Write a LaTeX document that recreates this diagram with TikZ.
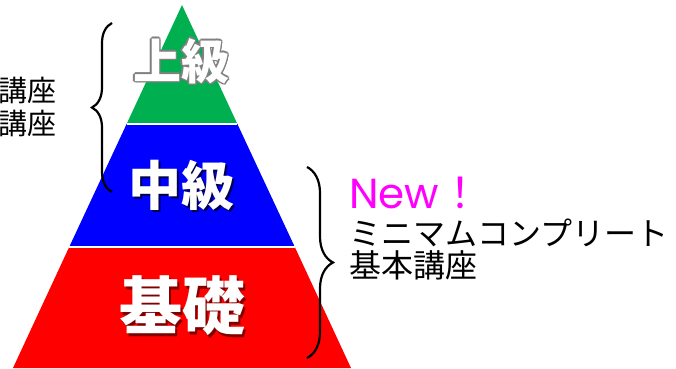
\documentclass[tikz,border=0pt]{standalone}
\usepackage{fontspec}
\setmainfont{Noto Sans CJK JP}
\newfontfamily\cjk{Noto Sans CJK JP}
\newfontfamily\latn{Poppins}
\usetikzlibrary{decorations.pathreplacing}
\definecolor{pgreen}{HTML}{00B050}
\definecolor{pblue}{HTML}{0000FF}
\definecolor{pred}{HTML}{FF0000}
\definecolor{newmag}{HTML}{FF00FF}
\tikzset{
  layer/.style={draw=none},
  sep/.style={draw=white,line width=1.5pt},
  cbrace/.style={decorate,decoration={brace,amplitude=#1},line width=2.2pt,black},
  side/.style={font=\cjk\fontsize{29}{33}\selectfont,inner sep=0pt,align=left},
  big/.style={font=\cjk\bfseries\fontsize{#1}{#1}\selectfont,inner sep=0pt}
}
\begin{document}
\begin{tikzpicture}[x=1pt,y=-1pt]
\useasboundingbox (0,0) rectangle (676,368);
\clip (0,0) rectangle (676,368);
% pyramid layers
\fill[pgreen] (182,5) -- (237.4,124) -- (126.6,124) -- cycle;
\fill[pblue] (126.6,124) -- (237.4,124) -- (294.8,247) -- (69.2,247) -- cycle;
\fill[pred] (69.2,247) -- (294.8,247) -- (351,368) -- (13,368) -- cycle;
\coordinate (b1l) at (126.6,124); \coordinate (b1r) at (237.4,124);
\coordinate (b2l) at (69.2,247); \coordinate (b2r) at (294.8,247);
\draw[sep] (b1l) -- (b1r);
\draw[sep] (b2l) -- (b2r);
% labels in pyramid
\foreach \dx/\dy in {-1.3/0,1.3/0,0/-1.3,0/1.3,-1/-1,1/1,-1/1,1/-1,1.8/1.8}
  \node[big=48,text=gray] at (181+\dx,61+\dy) {上級};
\node[big=48,text=white] (jo) at (181,61) {上級};
\node[big=53,text=black!70!blue] at (183.5,187.5) {中級};
\node[big=53,text=white] (chu) at (181,185) {中級};
\node[big=63,text=pred!50!black] at (184.5,308.5) {基礎};
\node[big=63,text=white] (kiso) at (182,306) {基礎};
% braces
\coordinate (lb1) at (112,192); \coordinate (lb2) at (112,23);
\draw[cbrace=20pt] (lb1) -- (lb2);
\coordinate (rb1) at (307,167); \coordinate (rb2) at (307,358);
\draw[cbrace=26pt] (rb1) -- (rb2);
% left text
\node[side,anchor=east,align=right] (lt) at (57,107) {講座\\講座};
% right text
\node[anchor=west,inner sep=0pt,text=newmag,font=\fontsize{42}{42}\selectfont] (new) at (349,193) {{\latn New}！};
\node[side,anchor=north west,font=\cjk\fontsize{32}{32}\selectfont] (txt) at (349,219) {ミニマムコンプリート\\基本講座};
\end{tikzpicture}
\end{document}
